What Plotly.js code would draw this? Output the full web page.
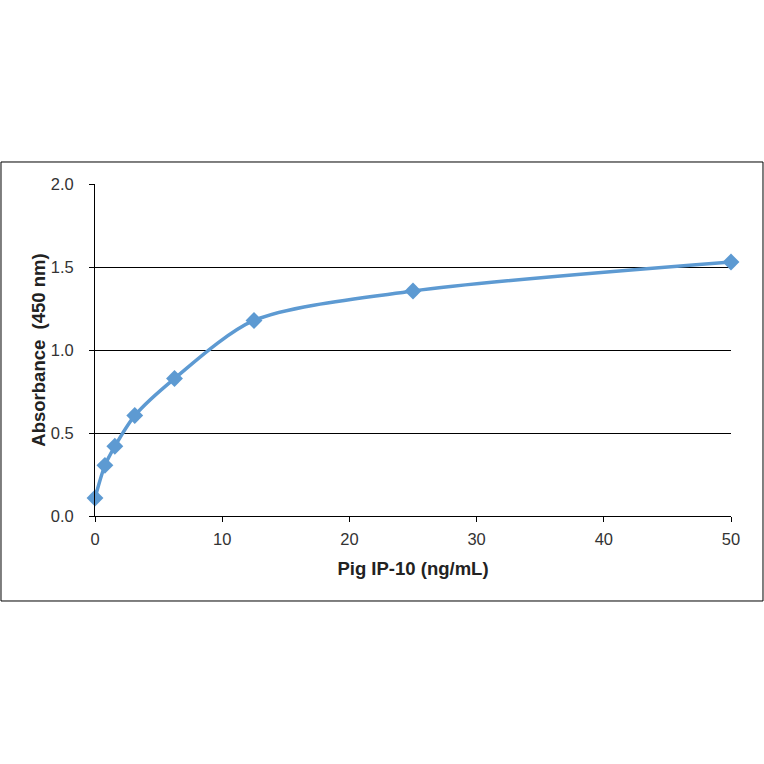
<!DOCTYPE html>
<html>
<head>
<meta charset="utf-8">
<script src="https://cdn.plot.ly/plotly-3.0.1.min.js"></script>
<style>
  html, body { margin:0; padding:0; background:#fff; }
  #chart { width:764px; height:764px; }
</style>
</head>
<body>
<div id="chart"></div>
<script>
  // standard curve: Pig IP-10 concentration vs absorbance
  const concentration = [0, 0.78, 1.56, 3.125, 6.25, 12.5, 25, 50];
  const absorbance    = [0.108, 0.305, 0.42, 0.605, 0.828, 1.178, 1.355, 1.53];
  const xTicks = [0, 10, 20, 30, 40, 50];
  const yTicks = [0, 0.5, 1.0, 1.5, 2.0];
  const yTickText = ['0.0', '0.5', '1.0', '1.5', '2.0'];

  const lineColor = '#5d9ad2';

  const data = [{
    x: concentration,
    y: absorbance,
    type: 'scatter',
    mode: 'lines+markers',
    cliponaxis: false,
    line: { shape:'spline', smoothing:0.8, color: lineColor, width: 3.5 },
    marker: { symbol:'diamond', size: 13, color: lineColor },
    hoverinfo: 'none'
  }];

  const fontFam = '"Liberation Sans", Arial, sans-serif';

  const layout = {
    width: 764, height: 764,
    margin: { l:95, r:33, t:184, b:248 },
    paper_bgcolor: '#fff',
    plot_bgcolor: '#fff',
    showlegend: false,
    font: { family: fontFam, size: 16.5, color: '#333' },
    xaxis: {
      range: [0, 50],
      tickvals: xTicks,
      ticks: 'outside', ticklen: 5, tickcolor: '#000',
      ticklabelstandoff: 3,
      showline: true, linecolor: '#000', linewidth: 1,
      showgrid: false, zeroline: false,
      tickfont: { size: 16.5, color: '#333' },
      title: { text: '<b>Pig IP-10 (ng/mL)</b>', font: { size: 18.5, color: '#222' }, standoff: 15 }
    },
    yaxis: {
      range: [0, 2.0],
      tickvals: yTicks,
      ticktext: yTickText,
      ticks: 'outside', ticklen: 5, tickcolor: '#000',
      ticklabelstandoff: 12,
      showline: true, linecolor: '#000', linewidth: 1,
      showgrid: true, gridcolor: '#000', gridwidth: 1,
      zeroline: false,
      tickfont: { size: 16.5, color: '#333' },
      title: { text: '<b>Absorbance  (450 nm)</b>', font: { size: 18.5, color: '#222' }, standoff: 0 }
    },
    shapes: [
      // top gridline at 2.0 (Plotly skips the one on the plot edge)
      { type:'line', xref:'paper', yref:'y', x0:0, x1:1, y0:2.003, y1:2.003,
        line:{ color:'#000', width:1 }, layer:'below' },
      { type:'rect', xref:'paper', yref:'paper',
        x0: -0.1478, x1: 1.0503, y0: -0.256, y1: 1.0663,
        line: { color:'#000', width: 1 }, fillcolor:'rgba(0,0,0,0)', layer:'below' }
    ]
  };

  Plotly.newPlot('chart', data, layout, { staticPlot:true, displayModeBar:false });
</script>
</body>
</html>
